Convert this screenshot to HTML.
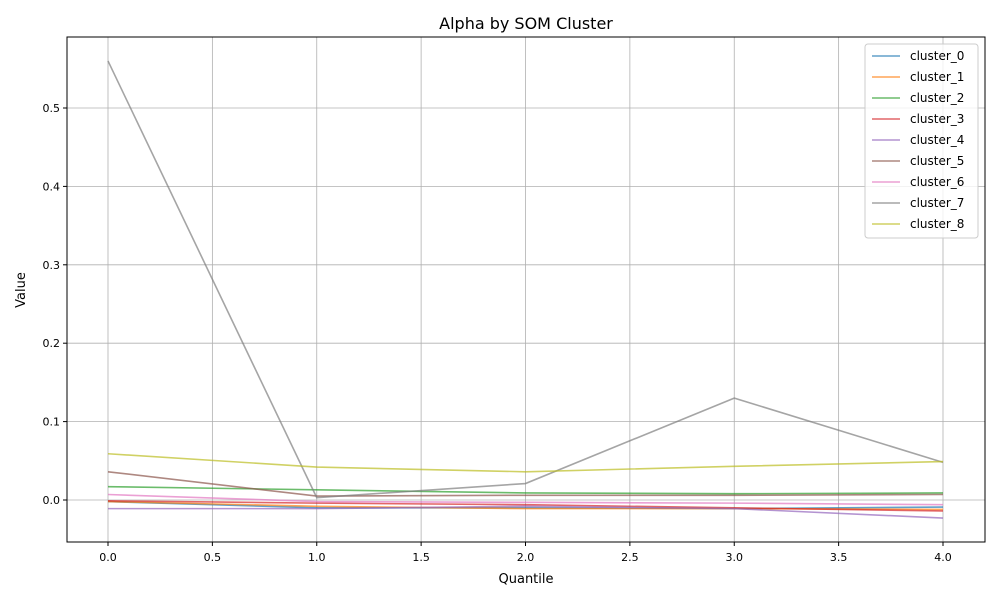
<!DOCTYPE html>
<html><head><meta charset="utf-8"><style>
body{margin:0;background:#fff;font-family:"Liberation Sans","DejaVu Sans",sans-serif}
svg text{font-family:"DejaVu Sans","Liberation Sans",sans-serif;fill:#000}
</style></head><body>
<svg id="chart" width="1000" height="600">
<rect width="1000" height="600" fill="#fff"/>
<text x="526" y="29" font-size="16" text-anchor="middle">Alpha by SOM Cluster</text>
<g id="grid"></g><g id="series"></g>
<rect x="67" y="37" width="918" height="505" fill="none" stroke="#000" stroke-width="1"/>
<g id="axes"></g>
<text x="526" y="583" font-size="13" text-anchor="middle">Quantile</text>
<text x="25" y="290" font-size="13" text-anchor="middle" transform="rotate(-90 25 290)">Value</text>
<g id="legend"></g>
</svg>
<script>
const quantiles=[0,1,2,3,4];
const seriesNames=["cluster_0","cluster_1","cluster_2","cluster_3","cluster_4","cluster_5","cluster_6","cluster_7","cluster_8"];
const c0=[-0.002,-0.010,-0.010,-0.011,-0.009];
const c1=[-0.002,-0.008,-0.011,-0.011,-0.012];
const c2=[0.017,0.013,0.009,0.008,0.009];
const c3=[-0.001,-0.004,-0.006,-0.010,-0.014];
const c4=[-0.011,-0.011,-0.008,-0.011,-0.023];
const c5=[0.036,0.005,0.006,0.006,0.007];
const c6=[0.007,-0.002,-0.003,-0.004,-0.006];
const c7=[0.560,0.003,0.021,0.130,0.048];
const c8=[0.059,0.042,0.036,0.043,0.049];
const xTicks=[0,0.5,1,1.5,2,2.5,3,3.5,4];
const yTicks=[0,0.1,0.2,0.3,0.4,0.5];
const allSeries=[c0,c1,c2,c3,c4,c5,c6,c7,c8];
const colors=["#1f77b4","#ff7f0e","#2ca02c","#d62728","#9467bd","#8c564b","#e377c2","#7f7f7f","#bcbd22"];
const NS="http://www.w3.org/2000/svg";
const xS=v=>108+v*208.75, yS=v=>500-v*784;
function mk(t,a,p){const e=document.createElementNS(NS,t);for(const k in a)e.setAttribute(k,a[k]);p.appendChild(e);return e;}
const grid=document.getElementById('grid'),axes=document.getElementById('axes');
xTicks.forEach(t=>{const x=xS(t);
 const g=mk('line',{x1:x,x2:x,y1:37,y2:542,stroke:'#b0b0b0','stroke-width':0.8},grid);
 
 mk('line',{x1:x,x2:x,y1:542,y2:546,stroke:'#000'},axes);
 const tx=mk('text',{x:x,y:561,'font-size':11,'text-anchor':'middle'},axes);tx.textContent=t.toFixed(1);
 });
yTicks.forEach(t=>{const y=yS(t);
 const g=mk('line',{x1:67,x2:985,y1:y,y2:y,stroke:'#b0b0b0','stroke-width':0.8},grid);
 
 mk('line',{x1:63,x2:67,y1:y,y2:y,stroke:'#000'},axes);
 const tx=mk('text',{x:60,y:y+4,'font-size':11,'text-anchor':'end'},axes);tx.textContent=t.toFixed(1);
 });
const sg=document.getElementById('series');
allSeries.forEach((s,i)=>{
 const p=mk('polyline',{points:s.map((v,j)=>xS(quantiles[j])+','+yS(v)).join(' '),fill:'none',stroke:colors[i],'stroke-width':1.6,'stroke-opacity':0.7},sg);
 
 });
const lg=document.getElementById('legend');
const box=mk('rect',{x:865,y:44,width:113,height:194,fill:'#fff','fill-opacity':0.8,stroke:'#ccc',rx:3},lg);

seriesNames.forEach((n,i)=>{const y=56+i*21;
 const l=mk('line',{x1:872,x2:900,y1:y,y2:y,stroke:colors[i],'stroke-width':1.6,'stroke-opacity':0.7},lg);
 
 const t=mk('text',{x:910,y:y+4,'font-size':12},lg);t.textContent=n;
 });
</script>
</body></html>
